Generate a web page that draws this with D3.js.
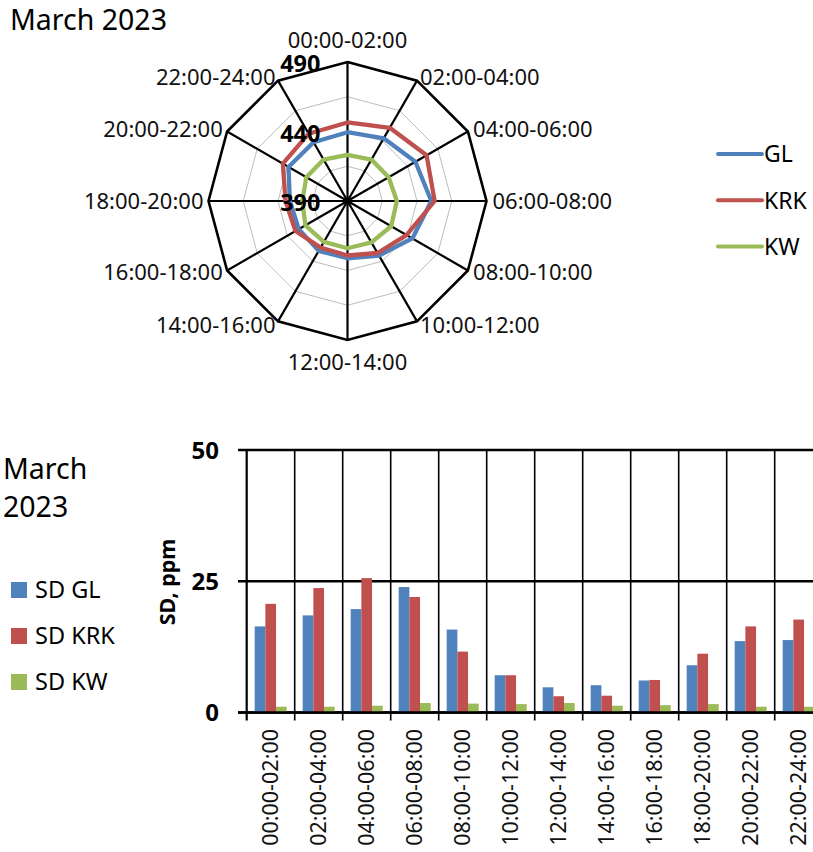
<!DOCTYPE html>
<html>
<head>
<meta charset="utf-8">
<script src="https://cdn.jsdelivr.net/npm/d3@7"></script>
<style>
  html, body { margin: 0; padding: 0; background: #fff; }
  svg { display: block; font-family: "Noto Sans", "Open Sans", sans-serif; }
</style>
</head>
<body>
<svg id="chart" width="813" height="852"></svg>
<script>
// Two-hour time slots
const slots = ["00:00-02:00", "02:00-04:00", "04:00-06:00", "06:00-08:00",
               "08:00-10:00", "10:00-12:00", "12:00-14:00", "14:00-16:00",
               "16:00-18:00", "18:00-20:00", "20:00-22:00", "22:00-24:00"];

// Mean CO2 per slot, ppm (radar)
const meanGL  = [439.5, 442.1, 446.4, 450.3, 443.9, 435.3, 431.2, 431.4, 430.5, 431.5, 439.0, 438.8];
const meanKRK = [446.5, 450.8, 455.7, 452.7, 439.0, 433.2, 429.2, 428.7, 433.2, 434.6, 443.7, 445.9];
const meanKW  = [423.2, 424.4, 424.2, 425.5, 426.3, 424.4, 424.0, 424.0, 425.0, 422.5, 424.2, 424.4];

// Standard deviation per slot, ppm (bars)
const sdGL  = [16.4, 18.5, 19.7, 23.9, 15.8, 7.1, 4.8, 5.2, 6.1, 9.0, 13.6, 13.8];
const sdKRK = [20.7, 23.7, 25.6, 22.0, 11.6, 7.1, 3.1, 3.2, 6.2, 11.2, 16.4, 17.7];
const sdKW  = [1.1, 1.1, 1.3, 1.8, 1.7, 1.6, 1.8, 1.3, 1.4, 1.6, 1.1, 1.1];

const radarGrid   = [415, 440, 465];
const radarLabels = [390, 440, 490];
const sdTicks     = [0, 25, 50];

const seriesNames = ["GL", "KRK", "KW"];
const colors = ["#4F81BD", "#C0504D", "#9BBB59"];

const svg = d3.select("#chart");

// ---------- Radar ----------
const cx = 347.5, cy = 201, R = 139;
const rScale = d3.scaleLinear().domain([390, 490]).range([0, R]);
const angle = d3.scaleLinear().domain([0, slots.length]).range([0, 2 * Math.PI]);
const pt = (i, v) => {
  const a = angle(i), r = rScale(v);
  return [cx + r * Math.sin(a), cy - r * Math.cos(a)];
};
const radar = svg.append("g");
const ring = v => d3.line()(slots.map((s, i) => pt(i, v))) + "Z";

radar.selectAll("path.grid").data(radarGrid).join("path")
  .attr("d", ring).attr("fill", "none")
  .attr("stroke", "#bdbdbd").attr("stroke-width", 1);

radar.selectAll("line.spoke").data(slots).join("line")
  .attr("x1", cx).attr("y1", cy)
  .attr("x2", (d, i) => pt(i, 490)[0]).attr("y2", (d, i) => pt(i, 490)[1])
  .attr("stroke", "#000").attr("stroke-width", 2.2);

radar.append("path").attr("d", ring(490)).attr("fill", "none")
  .attr("stroke", "#000").attr("stroke-width", 2.6).attr("stroke-linejoin", "miter");

const radarSeries = [meanGL, meanKRK, meanKW];
radarSeries.forEach((vals, k) => {
  radar.append("path")
    .attr("d", d3.line().curve(d3.curveLinearClosed)(vals.map((v, i) => pt(i, v))))
    .attr("fill", "none").attr("stroke", colors[k])
    .attr("stroke-width", 4.3).attr("stroke-linejoin", "round");
});

radar.selectAll("text.rl").data(radarLabels).join("text")
  .attr("x", cx - 27).attr("y", d => cy - rScale(d) + 2)
  .attr("dy", "0.36em").attr("text-anchor", "end")
  .attr("font-weight", "bold").attr("font-size", 23.5).attr("fill", "#000")
  .text(d => d);

radar.selectAll("text.cat").data(slots).join("text")
  .each(function (d, i) {
    const a = angle(i), s = Math.sin(a), c = Math.cos(a);
    const [vx, vy] = pt(i, 490);
    const t = d3.select(this);
    if (Math.abs(s) < 0.01) {
      t.attr("x", vx).attr("y", vy - 22 * c).attr("text-anchor", "middle");
    } else {
      t.attr("x", vx + (s > 0 ? 6 * s : 5 * s)).attr("y", vy - 4 * c)
       .attr("text-anchor", s > 0 ? "start" : "end");
    }
  })
  .attr("dy", "0.36em").attr("font-size", 22).attr("fill", "#111")
  .text(d => d);

// Radar legend
const lg = svg.append("g");
seriesNames.forEach((n, k) => {
  const y = 154 + k * 46.3;
  lg.append("line").attr("x1", 718).attr("x2", 762).attr("y1", y).attr("y2", y)
    .attr("stroke", colors[k]).attr("stroke-width", 4).attr("stroke-linecap", "round");
  lg.append("text").attr("x", 764).attr("y", y).attr("dy", "0.36em")
    .attr("font-size", 23).attr("fill", "#000").text(n);
});

svg.append("text").attr("x", 10).attr("y", 30).attr("font-size", 28.5)
  .attr("fill", "#000").text("March 2023");

// ---------- Bars ----------
const x0 = 246.7, step = 48;
const x = d3.scaleBand().domain(slots).range([x0, x0 + step * slots.length]).padding(0);
const y = d3.scaleLinear().domain([0, 50]).range([712.5, 450]);
const inner = d3.scaleBand().domain([0, 1, 2]).range([8, 40]).padding(0);
const bars = svg.append("g");

// horizontal grid
bars.selectAll("line.hg").data(sdTicks).join("line")
  .attr("x1", 238).attr("x2", 813).attr("y1", y).attr("y2", y)
  .attr("stroke", "#000").attr("stroke-width", 2.5);

// vertical grid and ticks at category boundaries
const bounds = d3.range(slots.length + 1).map(i => x0 + i * step);
bars.selectAll("line.vg").data(bounds).join("line")
  .attr("x1", d => d).attr("x2", d => d)
  .attr("y1", y(50)).attr("y2", y(0) + 8)
  .attr("stroke", "#000").attr("stroke-width", (d, i) => i === 0 ? 2.2 : 1.6);

const sdSeries = [sdGL, sdKRK, sdKW];
sdSeries.forEach((vals, k) => {
  bars.append("g").selectAll("rect").data(vals).join("rect")
    .attr("x", (d, i) => x(slots[i]) + inner(k))
    .attr("width", inner.bandwidth())
    .attr("y", d => y(d))
    .attr("height", d => y(0) - y(d))
    .attr("fill", colors[k]);
});

// redraw baseline above bars
bars.append("line").attr("x1", 238).attr("x2", 813).attr("y1", y(0)).attr("y2", y(0))
  .attr("stroke", "#000").attr("stroke-width", 2.5);

bars.selectAll("text.yt").data(sdTicks).join("text")
  .attr("x", 219).attr("y", y).attr("dy", "0.36em").attr("text-anchor", "end")
  .attr("font-weight", "bold").attr("font-size", 24).attr("fill", "#000")
  .text(d => d);

bars.append("text")
  .attr("transform", "translate(175,582) rotate(-90)")
  .attr("text-anchor", "middle").attr("font-weight", "bold").attr("font-size", 21.5)
  .attr("fill", "#000").text("SD, ppm");

bars.selectAll("text.xt").data(slots).join("text")
  .attr("transform", d => `translate(${x(d) + x.bandwidth() / 2},729) rotate(-90)`)
  .attr("dy", "0.36em").attr("text-anchor", "end")
  .attr("font-size", 21.5).attr("fill", "#111").text(d => d);

// Bar legend and title
const bt = svg.append("text").attr("font-size", 28.5).attr("fill", "#000");
bt.append("tspan").attr("x", 3).attr("y", 479).text("March");
bt.append("tspan").attr("x", 3).attr("y", 517).text("2023");

["SD GL", "SD KRK", "SD KW"].forEach((n, k) => {
  const yy = 590 + k * 46;
  svg.append("rect").attr("x", 11).attr("y", yy - 8).attr("width", 16).attr("height", 16)
    .attr("fill", colors[k]);
  svg.append("text").attr("x", 35).attr("y", yy).attr("dy", "0.36em")
    .attr("font-size", 23.5).attr("fill", "#000").text(n);
});
</script>
</body>
</html>
